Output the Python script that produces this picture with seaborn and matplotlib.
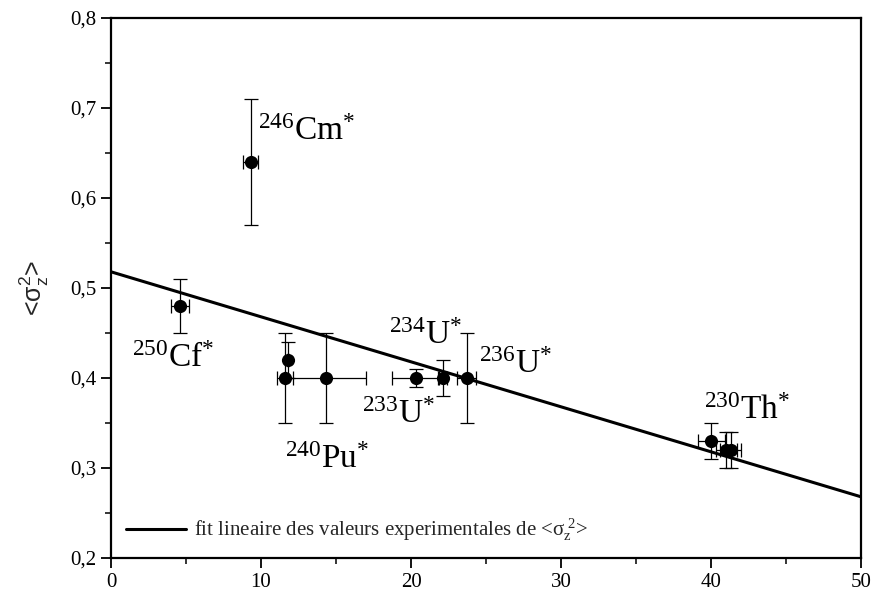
import matplotlib
matplotlib.use("Agg")
import matplotlib.pyplot as plt
import seaborn as sns
import pandas as pd
from matplotlib.ticker import MultipleLocator, FuncFormatter

# ---- data ----
x_vals = [4.6, 9.3, 11.6, 11.8, 14.3, 20.3, 22.1, 23.7, 40.0, 41.0, 41.3]
y_vals = [0.48, 0.64, 0.40, 0.42, 0.40, 0.40, 0.40, 0.40, 0.33, 0.32, 0.32]
x_err = [0.6, 0.47, 0.53, 0.0, 2.7, 1.55, 0.3, 0.6, 0.9, 0.7, 0.7]
y_err = [0.03, 0.07, 0.05, 0.02, 0.05, 0.01, 0.02, 0.05, 0.02, 0.02, 0.02]

fit_x = [0, 50]
fit_y = [0.518, 0.268]

label_text = [r"$^{246}$Cm$^{*}$", r"$^{250}$Cf$^{*}$", r"$^{240}$Pu$^{*}$",
              r"$^{233}$U$^{*}$", r"$^{234}$U$^{*}$", r"$^{236}$U$^{*}$",
              r"$^{230}$Th$^{*}$"]
label_x = [9.8, 1.4, 11.6, 16.7, 18.55, 24.55, 39.5]
label_y = [0.664, 0.412, 0.30, 0.35, 0.438, 0.406, 0.355]

legend_label = r"fit lineaire des valeurs experimentales de <$\sigma_z^{\ 2}$>"
y_label = r"<$\sigma_z^2$>"

# ---- style ----
sns.set_theme(style="ticks")
plt.rcParams["font.family"] = ["Liberation Serif", "DejaVu Serif"]
plt.rcParams["mathtext.fontset"] = "custom"
plt.rcParams["mathtext.rm"] = "Liberation Serif"
plt.rcParams["mathtext.it"] = "Liberation Serif:italic"
plt.rcParams["mathtext.default"] = "regular"

fig = plt.figure(figsize=(8.73, 5.97), dpi=100)
ax = fig.add_axes([111 / 873, 39 / 597, 750 / 873, 540 / 597])

df = pd.DataFrame({"x": x_vals, "y": y_vals})
fit_df = pd.DataFrame({"x": fit_x, "y": fit_y})

ax.errorbar(x_vals, y_vals, xerr=x_err, yerr=y_err, fmt="none",
            ecolor="black", elinewidth=0.9, capsize=5, capthick=0.9, zorder=2)
sns.scatterplot(data=df, x="x", y="y", ax=ax, color="black", s=90,
                edgecolor="black", linewidth=0, zorder=3)
sns.lineplot(data=fit_df, x="x", y="y", ax=ax, color="black", linewidth=2.2,
             label=legend_label, zorder=4)

for t, lx, ly in zip(label_text, label_x, label_y):
    ax.text(lx, ly, t, fontsize=24, color="black", ha="left", va="baseline")

ax.set_xlim(0, 50)
ax.set_ylim(0.2, 0.8)
ax.xaxis.set_major_locator(MultipleLocator(10))
ax.xaxis.set_minor_locator(MultipleLocator(5))
ax.yaxis.set_major_locator(MultipleLocator(0.1))
ax.yaxis.set_minor_locator(MultipleLocator(0.05))
ax.yaxis.set_major_formatter(FuncFormatter(lambda v, p: f"{v:.1f}".replace(".", ",")))
ax.xaxis.set_major_formatter(FuncFormatter(lambda v, p: f"{v:.0f}"))

ax.tick_params(axis="both", which="major", direction="out", length=7, width=1.3,
               labelsize=15, colors="black", top=False, right=False)
ax.tick_params(axis="both", which="minor", direction="out", length=4.5, width=1.3,
               top=False, right=False)
for sp in ax.spines.values():
    sp.set_visible(True)
    sp.set_linewidth(1.6)
    sp.set_color("black")

ax.set_xlabel("")
ax.set_ylabel(y_label, fontsize=18, family=["Liberation Sans", "DejaVu Sans"], labelpad=14)

leg = ax.legend(loc="lower left", frameon=False, fontsize=15, handlelength=2.9,
                handletextpad=0.4, borderaxespad=0.3)

fig.savefig("out.png", dpi=100, facecolor="white")
